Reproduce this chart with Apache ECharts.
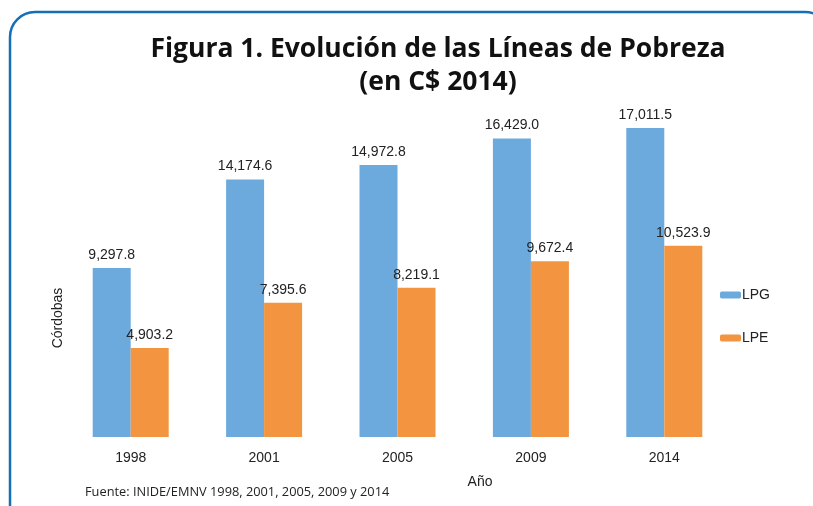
<!DOCTYPE html>
<html lang="es">
<head>
<meta charset="UTF-8">
<title>Figura 1</title>
<script src="https://cdn.jsdelivr.net/npm/echarts@6.0.0/dist/echarts.min.js"></script>
<style>
    html, body { margin: 0; padding: 0; background: #fff; }
    #main { width: 813px; height: 506px; }
</style>
</head>
<body>
<div id="main"></div>
<script>
    // datos
    const years = ['1998', '2001', '2005', '2009', '2014'];
    const lpg = [9297.8, 14174.6, 14972.8, 16429.0, 17011.5];
    const lpe = [4903.2, 7395.6, 8219.1, 9672.4, 10523.9];

    const fmt = v => v.toLocaleString('en-US', { minimumFractionDigits: 1, maximumFractionDigits: 1 });
    const titleFont = '"Liberation Sans Narrow", "Open Sans", sans-serif';
    const plainFont = 'Liberation Sans, Arial, sans-serif';
    const chart = echarts.init(document.getElementById('main'));

    const labelStyle = {
        show: true,
        position: 'top',
        distance: 6,
        color: '#222',
        fontFamily: plainFont,
        fontSize: 14,
        formatter: p => fmt(p.value)
    };

    const option = {
        backgroundColor: '#fff',
        animation: false,
        title: {
            text: 'Figura 1. Evolución de las Líneas de Pobreza\n(en C$ 2014)',
            left: 433,
            textAlign: 'center',
            top: 28,
            textStyle: {
                fontFamily: titleFont,
                fontWeight: 'bold',
                fontSize: 26.5,
                lineHeight: 33,
                color: '#111'
            }
        },
        legend: {
            orient: 'vertical',
            left: 715,
            top: 283,
            itemWidth: 21,
            itemHeight: 7,
            itemGap: 29,
            textStyle: { fontFamily: plainFont, fontSize: 14, color: '#222', padding: [0, 0, 0, -4] },
            data: ['LPG', 'LPE']
        },
        grid: { left: 64, right: 82, top: 110, bottom: 69 },
        xAxis: {
            type: 'category',
            data: years,
            axisLine: { show: false },
            axisTick: { show: false },
            axisLabel: { margin: 14, fontFamily: plainFont, fontSize: 14, color: '#222' }
        },
        yAxis: {
            type: 'value',
            min: 0,
            max: 18000,
            show: false
        },
        series: [
            {
                name: 'LPG',
                type: 'bar',
                data: lpg,
                barWidth: 38,
                barGap: '0%',
                itemStyle: { color: '#6caade' },
                label: labelStyle
            },
            {
                name: 'LPE',
                type: 'bar',
                data: lpe,
                barWidth: 38,
                itemStyle: { color: '#f29440' },
                label: labelStyle
            }
        ],
        graphic: [
            {
                type: 'rect',
                shape: { x: 10, y: 12, width: 820, height: 600, r: 25 },
                style: { fill: null, stroke: '#136fb8', lineWidth: 2.5 },
                silent: true
            },
            {
                type: 'text',
                x: 58,
                y: 318,
                rotation: Math.PI / 2,
                style: {
                    text: 'Córdobas',
                    fontFamily: plainFont,
                    fontSize: 14,
                    fill: '#222',
                    textAlign: 'center',
                    textVerticalAlign: 'middle'
                }
            },
            {
                type: 'text',
                x: 480,
                y: 482,
                style: {
                    text: 'Año',
                    fontFamily: plainFont,
                    fontSize: 14,
                    fill: '#222',
                    textAlign: 'center',
                    textVerticalAlign: 'middle'
                }
            },
            {
                type: 'text',
                left: 85,
                top: 486,
                style: {
                    text: 'Fuente: INIDE/EMNV 1998, 2001, 2005, 2009 y 2014',
                    fontFamily: titleFont,
                    fontSize: 12.8,
                    fill: '#222'
                }
            }
        ]
    };

    chart.setOption(option);
</script>
</body>
</html>
